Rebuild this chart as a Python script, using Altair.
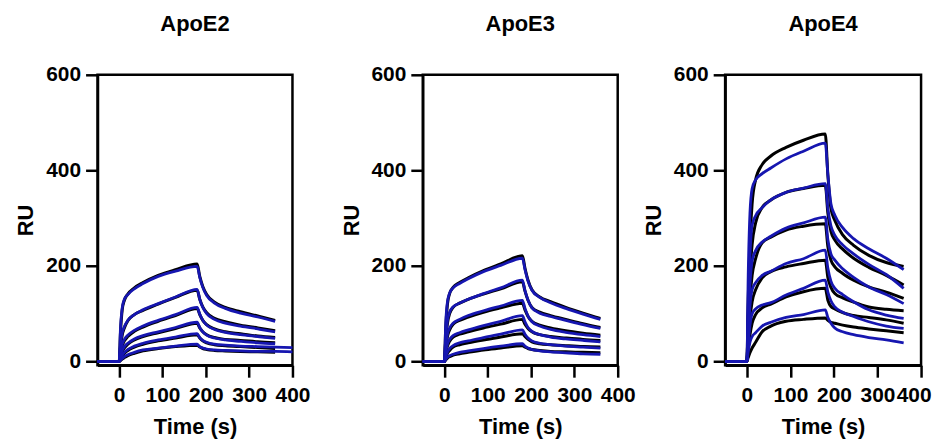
import altair as alt
import pandas as pd

# Time points (s) shared by every sensorgram
TIME = [-50, 0, 3, 7, 12, 20, 35, 55, 90, 130, 180, 186, 193, 202, 220, 245, 280, 320, 360]

PANELS = ["ApoE2", "ApoE3", "ApoE4"]

# ---- ApoE2 ----
E2_DATA = [
    [0, 0, 60, 108, 128, 141, 154, 165, 180, 192, 204, 178, 157, 140, 124, 113, 104, 95, 86],
    [0, 0, 30, 55, 70, 85, 98, 107, 120, 134, 149, 130, 114, 102, 90, 83, 76, 70, 64],
    [0, 0, 18, 33, 43, 52, 63, 72, 84, 96, 111, 98, 86, 77, 68, 62, 58, 53, 50],
    [0, 0, 10, 20, 28, 36, 45, 52, 60, 69, 80, 70, 62, 56, 50, 46, 44, 41, 39],
    [0, 0, 5, 11, 17, 23, 30, 36, 43, 49, 56, 49, 43, 39, 35, 33, 31, 29, 27],
    [0, 0, 2, 5, 8, 12, 17, 22, 27, 31, 34, 30, 27, 25, 23, 22, 21, 20, 19],
]
E2_FIT = [
    [0, 0, 70, 112, 130, 140, 152, 163, 178, 189, 199, 176, 155, 138, 122, 111, 101, 93, 84],
    [0, 0, 35, 60, 73, 86, 98, 108, 121, 135, 151, 130, 113, 100, 88, 80, 74, 68, 62],
    [0, 0, 20, 36, 46, 55, 65, 74, 86, 98, 113, 99, 86, 76, 67, 61, 56, 52, 48],
    [0, 0, 12, 23, 31, 38, 47, 54, 62, 71, 82, 71, 62, 55, 49, 45, 42, 39, 37],
    [0, 0, 6, 13, 19, 25, 32, 38, 45, 51, 58, 50, 44, 40, 36, 34, 32, 31, 30],
    [0, 0, 3, 6, 10, 14, 19, 24, 28, 32, 36, 31, 28, 26, 24, 23, 22, 21, 21],
]
# two fitted curves run on to t = 400 s
E2_FIT_TAIL = {4: 29, 5: 20}

# ---- ApoE3 ----
E3_DATA = [
    [0, 0, 70, 120, 142, 155, 165, 175, 190, 204, 221, 195, 170, 150, 135, 125, 113, 101, 90],
    [0, 0, 45, 80, 100, 113, 122, 130, 141, 152, 167, 147, 128, 113, 103, 96, 88, 79, 71],
    [0, 0, 28, 52, 66, 78, 86, 93, 103, 112, 122, 108, 94, 84, 76, 70, 64, 59, 55],
    [0, 0, 16, 32, 42, 51, 57, 62, 70, 78, 88, 78, 69, 62, 56, 52, 49, 46, 44],
    [0, 0, 8, 17, 23, 30, 35, 39, 45, 51, 58, 52, 46, 41, 37, 35, 33, 31, 30],
    [0, 0, 3, 7, 10, 13, 16, 19, 24, 28, 33, 30, 27, 25, 23, 21, 20, 19, 18],
]
E3_FIT = [
    [0, 0, 80, 125, 143, 154, 163, 173, 188, 201, 216, 192, 168, 149, 134, 123, 111, 99, 88],
    [0, 0, 50, 85, 103, 114, 122, 130, 142, 154, 170, 148, 128, 112, 101, 94, 86, 77, 69],
    [0, 0, 32, 57, 70, 80, 88, 96, 106, 116, 128, 111, 95, 83, 74, 67, 61, 56, 52],
    [0, 0, 19, 36, 46, 54, 60, 66, 75, 84, 96, 83, 71, 63, 56, 51, 47, 44, 41],
    [0, 0, 10, 20, 27, 33, 39, 43, 50, 57, 66, 57, 49, 43, 38, 35, 32, 30, 28],
    [0, 0, 4, 9, 12, 15, 19, 22, 27, 32, 37, 32, 28, 25, 22, 20, 18, 16, 15],
]

# ---- ApoE4 ----
E4_DATA = [
    [0, 0, 130, 250, 330, 380, 412, 430, 448, 463, 476, 390, 320, 295, 265, 243, 222, 207, 199],
    [0, 0, 90, 180, 245, 290, 322, 338, 354, 362, 369, 310, 272, 254, 235, 216, 197, 180, 160],
    [0, 0, 60, 130, 180, 215, 248, 260, 275, 283, 288, 240, 212, 198, 184, 170, 156, 145, 132],
    [0, 0, 40, 90, 125, 150, 175, 188, 198, 205, 212, 175, 155, 142, 133, 124, 114, 109, 106],
    [0, 0, 25, 55, 80, 98, 112, 120, 135, 146, 153, 128, 115, 110, 102, 96, 92, 87, 80],
    [0, 0, 8, 18, 28, 40, 62, 74, 84, 88, 91, 86, 82, 80, 76, 72, 68, 64, 60],
]
E4_FIT = [
    [0, 0, 180, 310, 362, 380, 393, 405, 424, 440, 457, 390, 330, 306, 280, 257, 236, 216, 192],
    [0, 0, 110, 220, 285, 305, 322, 338, 354, 363, 372, 320, 284, 264, 244, 225, 203, 182, 153],
    [0, 0, 80, 160, 210, 232, 250, 262, 279, 290, 302, 255, 225, 212, 194, 176, 156, 140, 121],
    [0, 0, 55, 115, 150, 165, 180, 189, 205, 215, 233, 195, 168, 153, 140, 125, 108, 97, 90],
    [0, 0, 35, 75, 100, 110, 118, 123, 139, 153, 170, 145, 127, 114, 103, 94, 83, 74, 69],
    [0, 0, 20, 40, 52, 60, 74, 82, 92, 98, 108, 92, 80, 70, 62, 56, 50, 45, 39],
]

X_TICKS = [0, 100, 200, 300, 400]
Y_TICKS = [0, 200, 400, 600]

BLUE = "#1616b0"
FONT = "Liberation Sans"


def build_frame(data, fit, tail=None):
    rows = []
    for i, series in enumerate(data):
        assert len(series) == len(TIME)
        for t, v in zip(TIME, series):
            rows.append({"kind": "data", "curve": i, "t": t, "ru": v})
    for i, series in enumerate(fit):
        assert len(series) == len(TIME)
        for t, v in zip(TIME, series):
            rows.append({"kind": "fit", "curve": i, "t": t, "ru": v})
        if tail and i in tail:
            rows.append({"kind": "fit", "curve": i, "t": 400, "ru": tail[i]})
    return pd.DataFrame(rows)


def panel(name, df, width=196, flush_last=False):
    if flush_last:
        x_axis = alt.Axis(values=X_TICKS, title="Time (s)", labelFlush=True, labelFlushOffset=10)
    else:
        x_axis = alt.Axis(values=X_TICKS, title="Time (s)")
    base = alt.Chart(df).encode(
        x=alt.X(
            "t:Q",
            scale=alt.Scale(domain=[-50, 400], nice=False, zero=False),
            axis=x_axis,
        ),
        y=alt.Y(
            "ru:Q",
            scale=alt.Scale(domain=[-8, 600], nice=False),
            axis=alt.Axis(values=Y_TICKS, title="RU"),
        ),
        detail="curve:N",
        order="t:Q",
    )
    black = base.transform_filter(alt.datum.kind == "data").mark_line(
        color="black", strokeWidth=3, interpolate="monotone"
    )
    blue = base.transform_filter(alt.datum.kind == "fit").mark_line(
        color=BLUE, strokeWidth=2.8, interpolate="monotone"
    )
    return alt.layer(black, blue).properties(
        width=width,
        height=292,
        title=alt.TitleParams(
            name, fontSize=22, fontWeight="bold", font=FONT, color="black",
            offset=28, anchor="middle",
        ),
    )


p1 = panel("ApoE2", build_frame(E2_DATA, E2_FIT, E2_FIT_TAIL))
p2 = panel("ApoE3", build_frame(E3_DATA, E3_FIT))
p3 = panel("ApoE4", build_frame(E4_DATA, E4_FIT), width=197, flush_last=True)

chart = (
    alt.hconcat(alt.hconcat(p1, p2, spacing=27), p3, spacing=4)
    .properties(padding={"left": 5, "top": 2, "right": 0, "bottom": 0})
    .configure_view(stroke="black", strokeWidth=2.5)
    .configure_axis(
        grid=False,
        domainColor="black",
        domainWidth=2.5,
        tickColor="black",
        tickWidth=2.5,
        tickSize=12,
        labelFont=FONT,
        labelFontSize=21,
        labelFontWeight="bold",
        labelColor="black",
        labelOverlap=False,
        labelFlush=False,
        titleFont=FONT,
        titleFontSize=22,
        titleFontWeight="bold",
        titleColor="black",
    )
    .configure_axisY(labelPadding=5, titlePadding=8)
    .configure_axisX(labelPadding=7, titlePadding=12)
)

chart.save("out.html", embed_options={"renderer": "svg", "actions": False})
